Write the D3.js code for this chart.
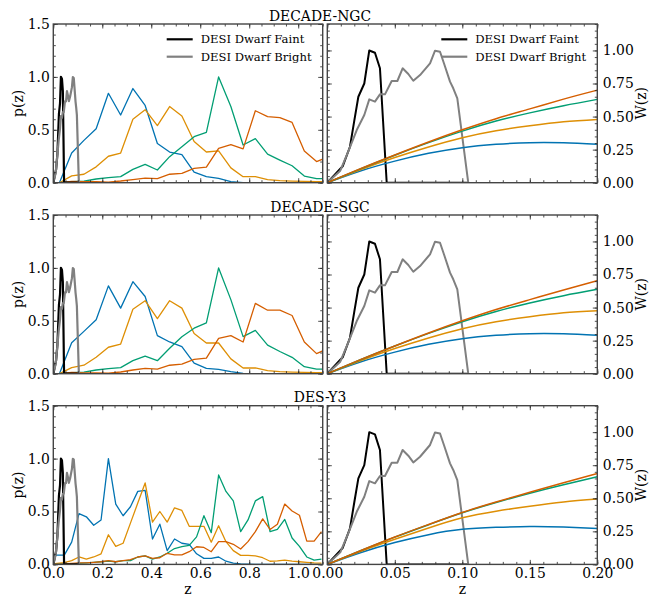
<!DOCTYPE html>
<html>
<head>
<meta charset="utf-8">
<script src="https://cdn.jsdelivr.net/npm/d3@7"></script>
<style>
  body { margin: 0; background: #fff; }
  svg { display: block; }
</style>
</head>
<body>
<svg id="chart" width="660" height="597"></svg>
<script>
// ---- data ----
const titles = ['DECADE-NGC', 'DECADE-SGC', 'DES-Y3'];
const colors = ['#0173b2', '#de8f05', '#029e73', '#d55e00'];

// bin centres of the tomographic p(z)
const decZ = d3.range(0.025, 1.15, 0.05);          // 23 bins, DECADE
const desZ = d3.range(-0.015, 1.1, 0.03);          // 38 bins, DES-Y3

const ngcBlue   = [0, 0.28, 0.40, 0.51, 0.845, 0.64, 0.89, 0.73, 0.37, 0.29, 0.265, 0.10, 0.057, 0.04, 0.01, 0, 0, 0, 0, 0, 0, 0, 0];
const ngcOrange = [0, 0.065, 0.08, 0.15, 0.25, 0.28, 0.60, 0.69, 0.54, 0.72, 0.63, 0.39, 0.29, 0.30, 0.14, 0.057, 0.057, 0.03, 0.02, 0.015, 0.012, 0.01, 0.01];
const ngcGreen  = [0, 0.01, 0.015, 0.035, 0.047, 0.057, 0.126, 0.173, 0.12, 0.246, 0.34, 0.435, 0.476, 1.0, 0.72, 0.356, 0.416, 0.27, 0.214, 0.16, 0.063, 0.038, 0.038];
const ngcRed    = [0, 0.012, 0.01, 0.01, 0.006, 0.016, 0.03, 0.044, 0.038, 0.08, 0.088, 0.135, 0.148, 0.325, 0.36, 0.32, 0.68, 0.625, 0.615, 0.57, 0.30, 0.20, 0.245];

const sgcBlue   = [0, 0.293, 0.40, 0.51, 0.83, 0.62, 0.87, 0.73, 0.36, 0.30, 0.255, 0.10, 0.05, 0.04, 0.02, 0.003, 0, 0, 0, 0, 0, 0, 0];
const sgcOrange = [0, 0.057, 0.08, 0.155, 0.25, 0.28, 0.61, 0.69, 0.52, 0.69, 0.62, 0.38, 0.29, 0.29, 0.14, 0.054, 0.054, 0.03, 0.02, 0.015, 0.012, 0.01, 0.01];
const sgcGreen  = [0, 0.01, 0.015, 0.035, 0.047, 0.057, 0.123, 0.167, 0.123, 0.24, 0.35, 0.43, 0.48, 1.0, 0.70, 0.35, 0.41, 0.27, 0.21, 0.155, 0.066, 0.044, 0.044];
const sgcRed    = [0, 0.012, 0.008, 0.008, 0.006, 0.016, 0.035, 0.05, 0.044, 0.08, 0.09, 0.135, 0.148, 0.334, 0.36, 0.30, 0.665, 0.60, 0.60, 0.55, 0.30, 0.19, 0.24];

const desBlue   = [0.088, 0.088, 0.088, 0.21, 0.48, 0.45, 0.37, 0.42, 1.0, 0.57, 0.46, 0.545, 0.69, 0.70, 0.24, 0.38, 0.13, 0.24, 0.20, 0.19, 0.10, 0.057, 0.057, 0.07, 0.03, 0.012, 0.004, 0.002, 0, 0, 0, 0, 0, 0, 0, 0, 0, 0];
const desOrange = [0, 0.01, 0.016, 0.035, 0.07, 0.05, 0.07, 0.10, 0.28, 0.17, 0.20, 0.39, 0.58, 0.77, 0.40, 0.50, 0.40, 0.535, 0.51, 0.36, 0.36, 0.36, 0.21, 0.365, 0.215, 0.13, 0.085, 0.085, 0.08, 0.063, 0.03, 0.033, 0.04, 0.03, 0.025, 0.02, 0.015, 0.012];
const desGreen  = [0, 0.003, 0.005, 0.008, 0.01, 0.015, 0.02, 0.025, 0.03, 0.025, 0.035, 0.035, 0.07, 0.08, 0.05, 0.07, 0.105, 0.15, 0.167, 0.18, 0.26, 0.46, 0.30, 0.845, 0.69, 0.60, 0.31, 0.42, 0.60, 0.64, 0.31, 0.33, 0.425, 0.25, 0.17, 0.07, 0.04, 0.05];
const desRed    = [0, 0.003, 0.005, 0.01, 0.015, 0.015, 0.02, 0.025, 0.035, 0.025, 0.035, 0.045, 0.07, 0.08, 0.057, 0.063, 0.105, 0.09, 0.09, 0.12, 0.167, 0.16, 0.12, 0.215, 0.215, 0.19, 0.145, 0.215, 0.31, 0.43, 0.33, 0.38, 0.57, 0.505, 0.465, 0.22, 0.22, 0.31];

// W(z) kernels on a coarse z grid
const wZ = [0, 0.025, 0.05, 0.075, 0.1, 0.125, 0.15, 0.175, 0.2];
const ngcW = [
  [0, 0.09, 0.163, 0.222, 0.265, 0.29, 0.303, 0.302, 0.29],
  [0, 0.10, 0.19, 0.27, 0.34, 0.393, 0.43, 0.46, 0.478],
  [0, 0.106, 0.208, 0.303, 0.39, 0.466, 0.528, 0.582, 0.63],
  [0, 0.108, 0.21, 0.308, 0.40, 0.484, 0.558, 0.632, 0.70]
];
const sgcW = [
  [0, 0.09, 0.163, 0.222, 0.265, 0.29, 0.303, 0.302, 0.29],
  [0, 0.10, 0.19, 0.27, 0.34, 0.393, 0.43, 0.46, 0.476],
  [0, 0.107, 0.209, 0.305, 0.393, 0.47, 0.535, 0.59, 0.638],
  [0, 0.108, 0.21, 0.308, 0.40, 0.485, 0.56, 0.633, 0.703]
];
const desW = [
  [0, 0.09, 0.165, 0.225, 0.265, 0.28, 0.287, 0.283, 0.272],
  [0, 0.10, 0.19, 0.275, 0.352, 0.402, 0.44, 0.472, 0.494],
  [0, 0.105, 0.206, 0.30, 0.39, 0.468, 0.538, 0.602, 0.662],
  [0, 0.105, 0.207, 0.302, 0.393, 0.472, 0.545, 0.618, 0.688]
];

// DESI dwarf samples
const faintZ = [0, 0.0114, 0.0168, 0.020, 0.023, 0.0274, 0.0311, 0.0353, 0.039, 0.044, 0.1044];
const faintP = [0, 0.124, 0.272, 0.47, 0.65, 0.75, 1.0, 0.983, 0.865, 0, 0];
const brightZ = [0, 0.0096, 0.0158, 0.0218, 0.0274, 0.0311, 0.0353, 0.039, 0.0427, 0.0477, 0.0519, 0.0558, 0.060, 0.0637, 0.0687, 0.0761, 0.0798, 0.0835, 0.0864, 0.0909, 0.0933, 0.0963, 0.1044];
const brightP = [0, 0.091, 0.242, 0.398, 0.512, 0.63, 0.613, 0.668, 0.668, 0.769, 0.769, 0.865, 0.822, 0.771, 0.814, 0.903, 0.998, 0.99, 0.903, 0.764, 0.714, 0.638, 0];
const legendLabels = ['DESI Dwarf Faint', 'DESI Dwarf Bright'];

// tick values
const leftXTicks = [0, 0.2, 0.4, 0.6, 0.8, 1.0];
const rightXTicks = [0, 0.05, 0.1, 0.15, 0.2];
const leftYTicks = [0, 0.5, 1.0, 1.5];
const rightYTicks = [0, 0.25, 0.5, 0.75, 1.0];

// ---- drawing ----
const FONT = 'DejaVu Serif';
const FS = 13.9;
const svg = d3.select('#chart');

const rows = [
  { z: decZ, pz: [ngcBlue, ngcOrange, ngcGreen, ngcRed], w: ngcW },
  { z: decZ, pz: [sgcBlue, sgcOrange, sgcGreen, sgcRed], w: sgcW },
  { z: desZ, pz: [desBlue, desOrange, desGreen, desRed], w: desW }
];
const rowTop = [24, 215, 405.7];
const rowH = 158.7;
const leftX = [53.3, 322.7];
const rightX = [327.3, 597.3];

const faint = faintZ.map((z, i) => [z, faintP[i]]);
const bright = brightZ.map((z, i) => [z, brightP[i]]);

function drawTicks(g, make, scale, major, minor, transform, label, fmt, pad) {
  const majAx = make(scale).tickValues(major).tickSize(-4.5).tickSizeOuter(0).tickPadding(pad)
    .tickFormat(label ? d3.format(fmt) : '');
  const minAx = make(scale).tickValues(minor).tickSize(-2.5).tickSizeOuter(0).tickFormat('');
  [minAx, majAx].forEach(ax => {
    const a = g.append('g').attr('transform', transform).call(ax);
    a.select('.domain').remove();
    a.attr('font-family', FONT).attr('font-size', FS);
    a.selectAll('line').attr('stroke', '#222').attr('stroke-width', 0.8);
    a.selectAll('text').attr('fill', '#000');
  });
}

rows.forEach((row, r) => {
  const top = rowTop[r], bot = top + rowH;
  const isLast = r === rows.length - 1;

  svg.append('text').attr('x', 320).attr('y', top - 3.3)
    .attr('text-anchor', 'middle').attr('font-family', FONT).attr('font-size', FS)
    .text(titles[r]);

  // ---------- left panel : p(z) ----------
  const xl = d3.scaleLinear().domain([0, 1.1]).range(leftX);
  const yl = d3.scaleLinear().domain([0, 1.5]).range([bot, top]);
  const gl = svg.append('g');
  const clipL = 'clipL' + r;
  gl.append('clipPath').attr('id', clipL).append('rect')
    .attr('x', leftX[0]).attr('y', top).attr('width', leftX[1] - leftX[0]).attr('height', rowH);
  const lineL = d3.line().x(d => xl(d[0])).y(d => yl(d[1]));
  const plotL = gl.append('g').attr('clip-path', `url(#${clipL})`);
  row.pz.forEach((vals, i) => {
    plotL.append('path').attr('d', lineL(row.z.map((z, j) => [z, vals[j]])))
      .attr('fill', 'none').attr('stroke', colors[i]).attr('stroke-width', 1.3)
      .attr('stroke-linejoin', 'round');
  });
  [[faint, '#000'], [bright, '#808080']].forEach(([d, c]) => {
    plotL.append('path').attr('d', lineL(d)).attr('fill', 'none')
      .attr('stroke', c).attr('stroke-width', 2.2).attr('stroke-linejoin', 'round');
  });

  drawTicks(gl, d3.axisBottom, xl, leftXTicks, d3.range(0, 1.1001, 0.05), `translate(0,${bot})`, isLast, '.1f', 4);
  drawTicks(gl, d3.axisTop, xl, leftXTicks, d3.range(0, 1.1001, 0.05), `translate(0,${top})`, false, '.1f', 4);
  drawTicks(gl, d3.axisLeft, yl, leftYTicks, d3.range(0, 1.5001, 0.1), `translate(${leftX[0]},0)`, true, '.1f', 3.5);
  drawTicks(gl, d3.axisRight, yl, leftYTicks, d3.range(0, 1.5001, 0.1), `translate(${leftX[1]},0)`, false, '.1f', 3.5);
  gl.append('rect').attr('x', leftX[0]).attr('y', top).attr('width', leftX[1] - leftX[0]).attr('height', rowH)
    .attr('fill', 'none').attr('stroke', '#444').attr('stroke-width', 1.4);

  gl.append('text').attr('transform', `translate(23,${top + rowH / 2}) rotate(-90)`)
    .attr('text-anchor', 'middle').attr('font-family', FONT).attr('font-size', FS).text('p(z)');

  // ---------- right panel : W(z) ----------
  const xr = d3.scaleLinear().domain([0, 0.2]).range(rightX);
  const yr = d3.scaleLinear().domain([0, 1.2]).range([bot, top]);
  const gr = svg.append('g');
  const clipR = 'clipR' + r;
  gr.append('clipPath').attr('id', clipR).append('rect')
    .attr('x', rightX[0]).attr('y', top).attr('width', rightX[1] - rightX[0]).attr('height', rowH);
  const plotR = gr.append('g').attr('clip-path', `url(#${clipR})`);
  const lineR = d3.line().x(d => xr(d[0])).y(d => yr(d[1]));
  [[faint, '#000'], [bright, '#808080']].forEach(([d, c]) => {
    plotR.append('path').attr('d', lineR(d)).attr('fill', 'none')
      .attr('stroke', c).attr('stroke-width', 2).attr('stroke-linejoin', 'round');
  });
  const smooth = d3.line().curve(d3.curveNatural).x(d => xr(d[0])).y(d => yr(d[1]));
  row.w.forEach((vals, i) => {
    plotR.append('path').attr('d', smooth(wZ.map((z, j) => [z, vals[j]])))
      .attr('fill', 'none').attr('stroke', colors[i]).attr('stroke-width', 1.5);
  });

  drawTicks(gr, d3.axisBottom, xr, rightXTicks, d3.range(0, 0.2001, 0.01), `translate(0,${bot})`, isLast, '.2f', 4);
  drawTicks(gr, d3.axisTop, xr, rightXTicks, d3.range(0, 0.2001, 0.01), `translate(0,${top})`, false, '.2f', 4);
  drawTicks(gr, d3.axisLeft, yr, rightYTicks, d3.range(0, 1.2001, 0.05), `translate(${rightX[0]},0)`, false, '.2f', 5.5);
  drawTicks(gr, d3.axisRight, yr, rightYTicks, d3.range(0, 1.2001, 0.05), `translate(${rightX[1]},0)`, true, '.2f', 5.5);
  gr.append('rect').attr('x', rightX[0]).attr('y', top).attr('width', rightX[1] - rightX[0]).attr('height', rowH)
    .attr('fill', 'none').attr('stroke', '#444').attr('stroke-width', 1.4);

  gr.append('text').attr('transform', `translate(645.5,${top + rowH / 2}) rotate(-90)`)
    .attr('text-anchor', 'middle').attr('font-family', FONT).attr('font-size', FS).text('W(z)');

  // legends on the first row
  if (r === 0) {
    [leftX[1], rightX[1]].forEach(x1 => {
      const lg = svg.append('g');
      legendLabels.forEach((lab, i) => {
        const y = top + 15.3 + i * 17.4;
        lg.append('line').attr('x1', x1 - 156).attr('x2', x1 - 130).attr('y1', y).attr('y2', y)
          .attr('stroke', i === 0 ? '#000' : '#808080').attr('stroke-width', 2.2);
        lg.append('text').attr('x', x1 - 122).attr('y', y).attr('dy', '0.36em')
          .attr('font-family', FONT).attr('font-size', 11.6).text(lab);
      });
    });
  }

  if (isLast) {
    svg.append('text').attr('x', (leftX[0] + leftX[1]) / 2).attr('y', 594)
      .attr('text-anchor', 'middle').attr('font-family', FONT).attr('font-size', FS).text('z');
    svg.append('text').attr('x', (rightX[0] + rightX[1]) / 2).attr('y', 594)
      .attr('text-anchor', 'middle').attr('font-family', FONT).attr('font-size', FS).text('z');
  }
});
</script>
</body>
</html>
